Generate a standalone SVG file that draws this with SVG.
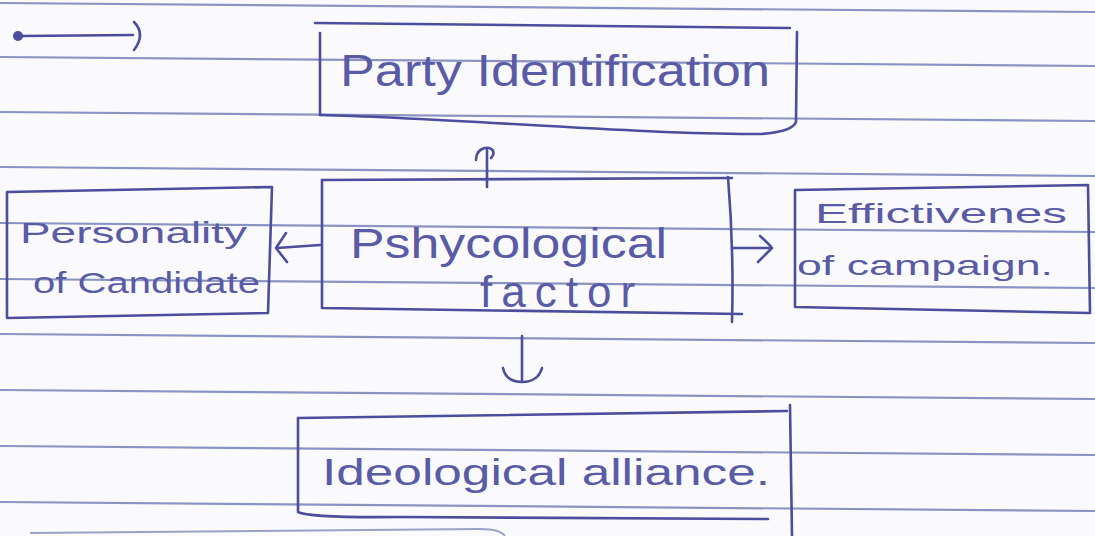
<svg xmlns="http://www.w3.org/2000/svg" width="1095" height="536" viewBox="0 0 1095 536">
  <style>
    .rule { stroke: #8b93c2; stroke-width: 2.2; fill: none; }
    .ink { stroke: #4c4d9c; stroke-width: 2.6; fill: none; stroke-linecap: round; stroke-linejoin: round; }
    .txt { font-family: "Liberation Sans", "DejaVu Sans", sans-serif; fill: #5a5ba6; }
  </style>
  <rect x="0" y="0" width="1095" height="536" fill="#fafafd"/>
  <g id="paper-lines">
    <line class="rule" x1="0" y1="3" x2="1095" y2="12"/>
    <line class="rule" x1="0" y1="57" x2="1095" y2="66"/>
    <line class="rule" x1="0" y1="112" x2="1095" y2="121"/>
    <line class="rule" x1="0" y1="167" x2="1095" y2="176"/>
    <line class="rule" x1="0" y1="223" x2="1095" y2="232"/>
    <line class="rule" x1="0" y1="279" x2="1095" y2="288"/>
    <line class="rule" x1="0" y1="334" x2="1095" y2="343"/>
    <line class="rule" x1="0" y1="390" x2="1095" y2="399"/>
    <line class="rule" x1="0" y1="446" x2="1095" y2="455"/>
    <line class="rule" x1="0" y1="502" x2="1095" y2="511"/>
  </g>
  <g id="bullet">
    <circle cx="18" cy="36" r="5" fill="#4c4d9c"/>
    <path class="ink" d="M21,36 L133,35"/>
    <path class="ink" d="M134,22 Q146,34 134,50"/>
  </g>
  <path d="M30,533 L480,529 Q500,529 505,536" stroke="#9aa0c8" stroke-width="2" fill="none"/>
  <g id="node-party">
    <path class="ink" d="M315,23 L790,28"/>
    <path class="ink" d="M320,33 L320,115"/>
    <path class="ink" d="M320,115 C450,118 650,135 760,134 Q792,132 796,122 L797,32"/>
    <text class="txt" x="340" y="86" font-size="44" textLength="430" lengthAdjust="spacingAndGlyphs">Party Identification</text>
  </g>
  <g id="node-psych">
    <path class="ink" d="M322,180 L732,178"/>
    <path class="ink" d="M322,180 L322,308 L742,314"/>
    <path class="ink" d="M728,177 Q734,250 732,322"/>
    <text class="txt" x="350" y="258" font-size="42" textLength="317" lengthAdjust="spacingAndGlyphs">Pshycological</text>
    <text class="txt" x="480" y="307" font-size="44" letter-spacing="9">factor</text>
  </g>
  <g id="node-personality">
    <path class="ink" d="M7,192 L272,187 L268,313 L7,318 Z"/>
    <text class="txt" x="20" y="243" font-size="30" textLength="227" lengthAdjust="spacingAndGlyphs">Personality</text>
    <text class="txt" x="33" y="293" font-size="30" textLength="227" lengthAdjust="spacingAndGlyphs">of Candidate</text>
  </g>
  <g id="node-effectiveness">
    <path class="ink" d="M795,190 L1088,185 L1090,313 L795,307 Z"/>
    <text class="txt" x="815" y="223" font-size="28" textLength="252" lengthAdjust="spacingAndGlyphs">Effictivenes</text>
    <text class="txt" x="797" y="275" font-size="28" textLength="256" lengthAdjust="spacingAndGlyphs">of campaign.</text>
  </g>
  <g id="node-ideological">
    <path class="ink" d="M298,418 L787,411"/>
    <path class="ink" d="M298,418 L298,512 Q310,518 400,517 L768,519"/>
    <path class="ink" d="M790,405 L792,536"/>
    <text class="txt" x="322" y="485" font-size="36" textLength="448" lengthAdjust="spacingAndGlyphs">Ideological alliance.</text>
  </g>
  <g id="connectors">
    <path class="ink" d="M487,187 L487,150"/>
    <path class="ink" d="M476,160 C476,150 484,147 489,148 C494,149 495,154 491,158"/>
    <path class="ink" d="M320,245 L277,248"/>
    <path class="ink" d="M286,233 L276,248 L287,262"/>
    <path class="ink" d="M732,248 L770,248"/>
    <path class="ink" d="M760,236 Q768,243 772,248 Q766,254 758,262"/>
    <path class="ink" d="M522,336 L522,380"/>
    <path class="ink" d="M503,368 Q506,382 522,382 Q538,382 542,368"/>
  </g>
</svg>
